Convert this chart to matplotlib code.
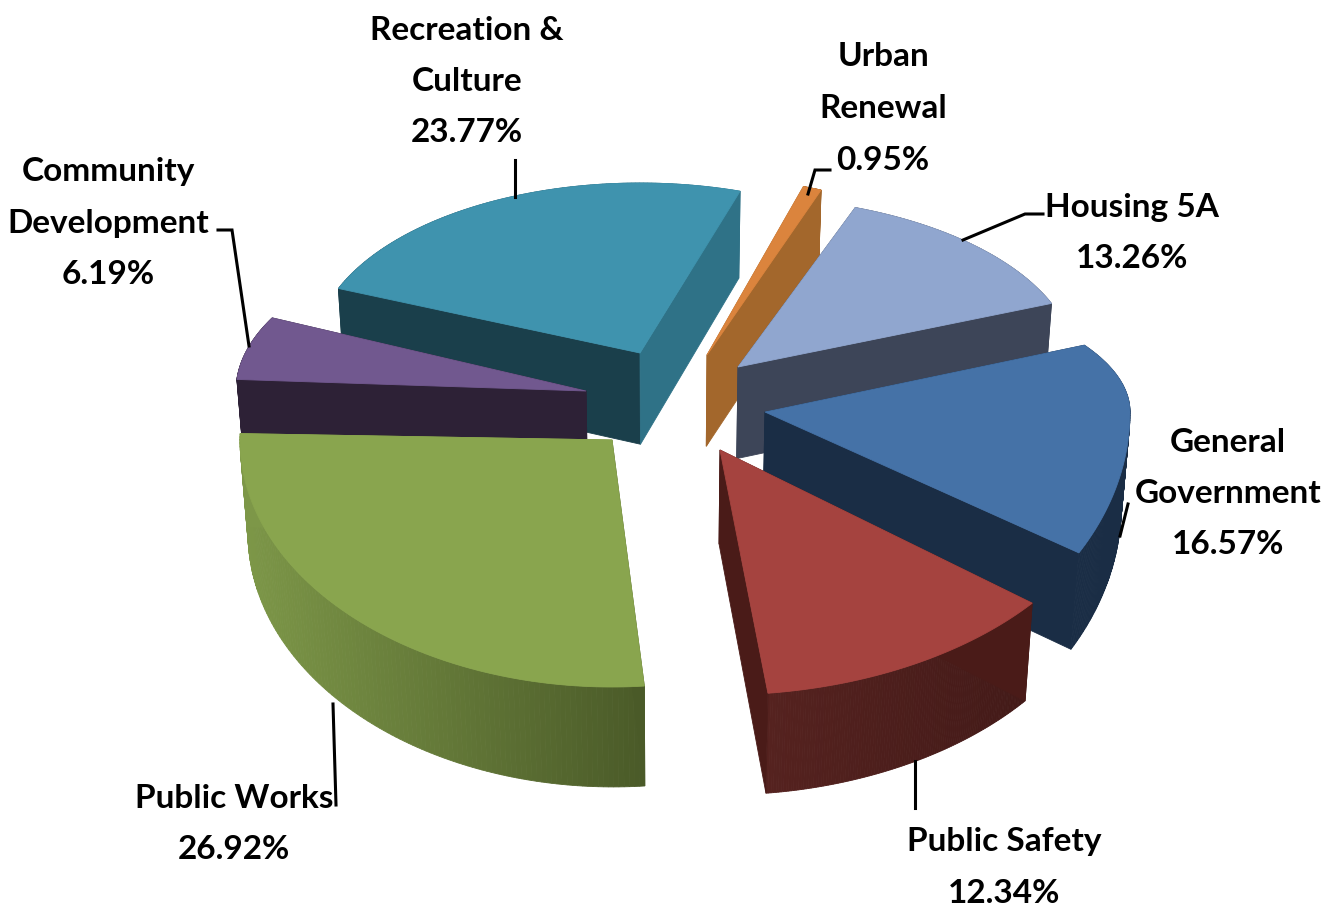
import numpy as np
import matplotlib
matplotlib.use("Agg")
import matplotlib.pyplot as plt
from matplotlib.patches import Polygon
from matplotlib.colors import to_rgb

categories = ["Housing 5A", "General\nGovernment", "Public Safety", "Public Works",
              "Community\nDevelopment", "Recreation &\nCulture", "Urban\nRenewal"]
shares = [13.26, 16.57, 12.34, 26.92, 6.19, 23.77, 0.95]

# slice geometry in picture pixels: apex x, apex y, rx, ry front, ry back, angle nudge
geometry = [
    (738, 367, 338, 240, 170, -1.0),
    (765, 412, 365, 276, 138, -8.0),
    (720, 450, 400, 245, 190, 0.0),
    (612, 440, 372, 247, 190, 1.9),
    (586, 391, 350, 240, 165, 4.0),
    (640, 353, 326, 240, 170, 0.0),
    (707, 355, 314, 240, 177, 0.0),
]
top_colors = ["#90a6cf", "#4572a7", "#a5433f", "#89a54e", "#71588f", "#3f93ae", "#db843d"]
# outer wall left/right, radial wall at start angle, radial wall at end angle
wall_colors = [
    ("#3d4558", "#3d4558", "#3d4558", "#3d4558"),
    ("#1a2d45", "#1a2d45", "#1a2d45", "#1a2d45"),
    ("#55221f", "#431a18", "#4a1b18", "#4a1b18"),
    ("#7d9748", "#4a5a28", "#4a5a28", "#7d9748"),
    ("#2d2136", "#2d2136", "#2d2136", "#2d2136"),
    ("#1a3f4b", "#2f7287", "#1a3f4b", "#2f7287"),
    ("#a3672c", "#a3672c", "#a3672c", "#a3672c"),
]
draw_order = [6, 5, 4, 0, 1, 2, 3]
start_angle = -68.7

label_pos = [(1132, 207), (1228, 442), (1004, 842), (234, 798), (108, 172), (467, 30), (883, 57)]
leaders = [
    [(1043, 214), (1025, 214), (963, 240)],
    [(1128, 504), (1120, 536)],
    [(915, 761), (915, 808)],
    [(333, 704), (336, 805)],
    [(218, 230), (232, 230), (249, 346)],
    [(515, 160), (515, 197)],
    [(808, 194), (815, 170), (830, 170)],
]
LINE_GAP = 51.5


def depth_at(y):
    return np.interp(y, [190, 690], [87, 100])


def rim(geo, theta):
    ax0, ay0, rx, ry_f, ry_b = geo[:5]
    s = np.sin(theta)
    return ax0 + rx * np.cos(theta), ay0 + s * np.where(s > 0, ry_f, ry_b)


def drop(x, y):
    # underside of the pie: pushed down and pulled slightly to the centre
    d = depth_at(y)
    return 667 + (x - 667) * (1 - 0.02 * d / 100), y + d


def draw_slice(ax, geo, a0, a1, top, walls):
    out_l, out_r, side_a, side_b = walls
    th = np.radians(np.linspace(a0 + geo[5], a1 + geo[5], 120))
    x, y = rim(geo, th)
    bx, by = drop(x, y)
    # gradient runs with screen x along the outer wall
    lo, hi = x.min(), x.max()
    c_l, c_r = np.array(to_rgb(out_l)), np.array(to_rgb(out_r))
    for i in range(len(th) - 1):
        f = ((x[i] + x[i + 1]) / 2 - lo) / max(hi - lo, 1)
        col = c_l + (c_r - c_l) * f
        ax.add_patch(Polygon([(x[i], y[i]), (x[i + 1], y[i + 1]), (bx[i + 1], by[i + 1]), (bx[i], by[i])],
                             closed=True, fc=col, ec=col, lw=0.6))
    ax0, ay0 = geo[0], geo[1]
    bax, bay = drop(np.array(ax0, float), np.array(ay0, float))
    ax.add_patch(Polygon([(ax0, ay0), (x[0], y[0]), (bx[0], by[0]), (bax, bay)],
                         closed=True, fc=side_a, ec=side_a, lw=0.6))
    ax.add_patch(Polygon([(ax0, ay0), (x[-1], y[-1]), (bx[-1], by[-1]), (bax, bay)],
                         closed=True, fc=side_b, ec=side_b, lw=0.6))
    ax.add_patch(Polygon(np.vstack([[ax0, ay0], np.column_stack([x, y])]),
                         closed=True, fc=top, ec=top, lw=0.6))


fig = plt.figure(figsize=(13.34, 9.09), dpi=100)
ax = fig.add_axes([0, 0, 1, 1])
ax.set_xlim(0, 1334)
ax.set_ylim(909, 0)
ax.axis("off")

edges = start_angle + np.concatenate([[0], np.cumsum(shares)]) * 3.6
for i in draw_order:
    draw_slice(ax, geometry[i], edges[i], edges[i + 1], top_colors[i], wall_colors[i])

for pts in leaders:
    xs, ys = zip(*pts)
    ax.plot(xs, ys, color="black", lw=2.2, solid_joinstyle="miter", zorder=5)

for name, share, (lx, ly) in zip(categories, shares, label_pos):
    lines = name.split("\n") + [f"{share:.2f}%"]
    for k, line in enumerate(lines):
        ax.text(lx, ly + k * LINE_GAP, line, ha="center", va="center", color="black",
                fontsize=24, fontweight="bold",
                family=["Lato", "Liberation Sans", "DejaVu Sans"], zorder=6)

fig.savefig("out.png", dpi=100)
